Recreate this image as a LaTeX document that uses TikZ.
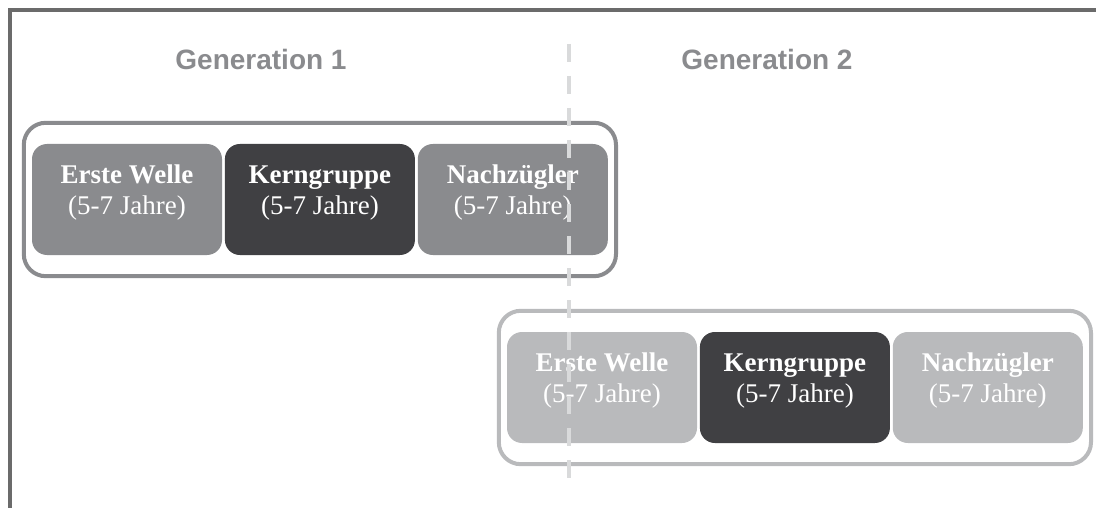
\documentclass[tikz,border=0pt]{standalone}
\usepackage{fontspec}
\setmainfont{Liberation Serif}
\newfontfamily\titlefont{Liberation Sans}
\usepackage{xcolor}
\usepackage{tikz}
\usetikzlibrary{positioning,fit}

\definecolor{framegray}{HTML}{6B6B6B}
\definecolor{midgray}{HTML}{8A8B8E}
\definecolor{darkgray}{HTML}{404043}
\definecolor{lightgray}{HTML}{B9BABC}
\definecolor{dashgray}{HTML}{D9DADB}

\begin{document}
\begin{tikzpicture}[x=1pt,y=-1pt,
  phase/.style={rounded corners=15pt,minimum width=190pt,minimum height=111pt,
    inner sep=0pt,align=center,text=white,text depth=19pt,
    font=\fontsize{27}{31}\selectfont},
  grp/.style={draw,line width=4pt,rounded corners=22pt,inner xsep=8pt,inner ysep=21pt},
  gentitle/.style={text=midgray,font=\titlefont\bfseries\fontsize{28}{32}\selectfont}]
  \useasboundingbox (0,0) rectangle (1096,508);
  %% outer frame (only top and left visible)
  \draw[framegray,line width=4pt] (1096,10) -- (10,10) -- (10,508);
  %% titles
  \node[gentitle,anchor=base] (t1) at (261,70) {Generation 1};
  \node[gentitle,anchor=base] (t2) at (767,70) {Generation 2};
  %% Generation 1
  \node[phase,fill=midgray] (e1) at (127,199.5) {\textbf{Erste Welle}\\(5-7 Jahre)};
  \node[phase,fill=darkgray,right=2.5pt of e1] (k1) {\textbf{Kerngruppe}\\(5-7 Jahre)};
  \node[phase,fill=midgray,right=2.5pt of k1] (n1) {\textbf{Nachzügler}\\(5-7 Jahre)};
  \node[grp,draw=midgray,fit=(e1)(n1)] (g1) {};
  %% Generation 2
  \node[phase,fill=lightgray] (e2) at (602,387.5) {\textbf{Erste Welle}\\(5-7 Jahre)};
  \node[phase,fill=darkgray,right=2.5pt of e2] (k2) {\textbf{Kerngruppe}\\(5-7 Jahre)};
  \node[phase,fill=lightgray,right=2.5pt of k2] (n2) {\textbf{Nachzügler}\\(5-7 Jahre)};
  \node[grp,draw=lightgray,fit=(e2)(n2)] (g2) {};
  %% generation boundary
  \draw[dashgray,line width=4.5pt,dash pattern=on 18pt off 14pt] (569,44) -- (569,478);
\end{tikzpicture}
\end{document}
